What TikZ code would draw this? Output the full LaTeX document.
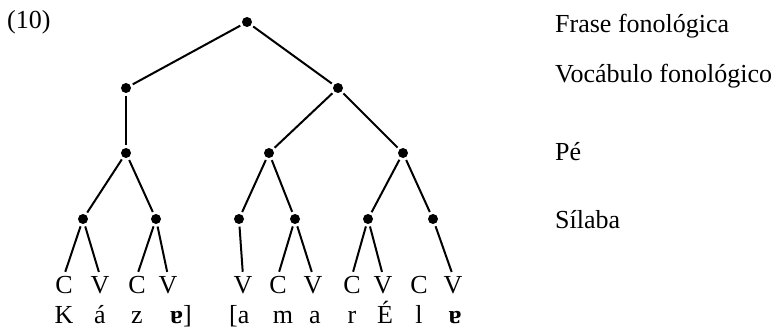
\documentclass[tikz,border=0pt]{standalone}
\usepackage{fontspec}
\setmainfont{Liberation Serif}
\begin{document}
\begin{tikzpicture}[x=1pt,y=-1pt,
 dot/.style={circle,fill=black,inner sep=0pt,minimum size=10pt},
 seg/.style={inner sep=0pt,anchor=base,font=\fontsize{26}{30}\selectfont},
 lbl/.style={anchor=base west,inner sep=0pt,font=\fontsize{26}{30}\selectfont},
 br/.style={line width=2pt,shorten <=2.5pt,shorten >=2.5pt},
 lf/.style={line width=2pt,shorten <=2.5pt,shorten >=4pt}]
\useasboundingbox (0,0) rectangle (777,329);
\node[lbl] (num) at (7,29) {(10)};
% dots
\node[dot] (r) at (247,22) {};
\node[dot] (w1) at (126,88) {};
\node[dot] (w2) at (338,88) {};
\node[dot] (p1) at (126,153) {};
\node[dot] (p2) at (269,153) {};
\node[dot] (p3) at (403,153) {};
\node[dot] (s1) at (83,219) {};
\node[dot] (s2) at (156,219) {};
\node[dot] (s3) at (239,219) {};
\node[dot] (s4) at (295,219) {};
\node[dot] (s5) at (368,219) {};
\node[dot] (s6) at (433,219) {};
% CV tier
\node[seg] (c1) at (64,293) {C};
\node[seg] (c2) at (100,293) {V};
\node[seg] (c3) at (137,293) {C};
\node[seg] (c4) at (168,293) {V};
\node[seg] (c5) at (243,293) {V};
\node[seg] (c6) at (278,293) {C};
\node[seg] (c7) at (313,293) {V};
\node[seg] (c8) at (352,293) {C};
\node[seg] (c9) at (383,293) {V};
\node[seg] (c10) at (419,293) {C};
\node[seg] (c11) at (453,293) {V};
% segments
\node[seg] (t1) at (64,323) {K};
\node[seg] (t2) at (100,323) {á};
\node[seg] (t3) at (137,323) {z};
\node[seg,anchor=base west] (t4) at (170,323) {\textbf{ɐ}]};
\node[seg,anchor=base west] (t5) at (229,323) {[a};
\node[seg] (t6) at (283,323) {m};
\node[seg] (t7) at (315,323) {a};
\node[seg] (t8) at (352,323) {r};
\node[seg] (t9) at (385,323) {É};
\node[seg] (t10) at (419,323) {l};
\node[seg] (t11) at (455,323) {\textbf{ɐ}};
% labels
\node[lbl] (l1) at (555,33) {Frase fonológica};
\node[lbl] (l2) at (555,82) {Vocábulo fonológico};
\node[lbl] (l3) at (555,160) {Pé};
\node[lbl] (l4) at (555,228) {Sílaba};
% branches
\draw[br] (r) -- (w1);
\draw[br] (r) -- (w2);
\draw[br] (w1) -- (p1);
\draw[br] (w2) -- (p2);
\draw[br] (w2) -- (p3);
\draw[br] (p1) -- (s1);
\draw[br] (p1) -- (s2);
\draw[br] (p2) -- (s3);
\draw[br] (p2) -- (s4);
\draw[br] (p3) -- (s5);
\draw[br] (p3) -- (s6);
\draw[lf] (s1) -- (c1.north);
\draw[lf] (s1) -- (c2.north);
\draw[lf] (s2) -- (c3.north);
\draw[lf] (s2) -- (c4.north);
\draw[lf] (s3) -- (c5.north);
\draw[lf] (s4) -- (c6.north);
\draw[lf] (s4) -- (c7.north);
\draw[lf] (s5) -- (c8.north);
\draw[lf] (s5) -- (c9.north);
\draw[lf] (s6) -- (c11.north);
\end{tikzpicture}
\end{document}
